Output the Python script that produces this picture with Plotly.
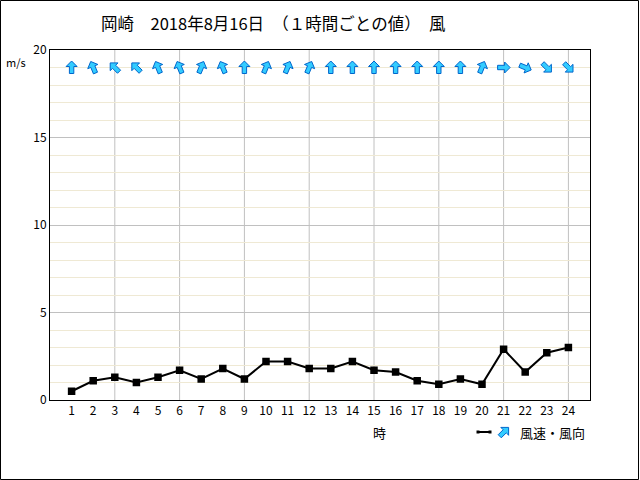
import math
import plotly.graph_objects as go

hours = list(range(1, 25))
speed = [0.5, 1.1, 1.3, 1.0, 1.3, 1.7, 1.2, 1.8, 1.2, 2.2, 2.2, 1.8,
         1.8, 2.2, 1.7, 1.6, 1.1, 0.9, 1.2, 0.9, 2.9, 1.6, 2.7, 3.0]
direction = ["N", "NNW", "NW", "NW", "NNW", "NNW", "NNE", "NNW", "N", "NNE", "NNE", "NNE",
             "N", "N", "N", "N", "N", "N", "N", "NNE", "E", "ESE", "SE", "SE"]
x_tick_labels = [str(h) for h in hours]
y_ticks = [0, 5, 10, 15, 20]
arrow_level = 19.0

compass = ["N", "NNE", "NE", "ENE", "E", "ESE", "SE", "SSE",
           "S", "SSW", "SW", "WSW", "W", "WNW", "NW", "NNW"]

FONT = "Noto Sans CJK JP"
ARROW_FILL = "#33ccff"
ARROW_LINE = "#0066cc"

# block-arrow glyph (pixels, pointing up)
glyph = [(0, 6.5), (5.5, 1), (2.2, 1), (2.2, -6), (-2.2, -6), (-2.2, 1), (-5.5, 1)]


def arrow_path(deg):
    t = math.radians(deg)
    pts = []
    for x, y in glyph:
        xr = x * math.cos(t) + y * math.sin(t)
        yr = -x * math.sin(t) + y * math.cos(t)
        pts.append((xr, yr))
    return "M " + " L ".join(f"{p[0]:.2f},{p[1]:.2f}" for p in pts) + " Z"


fig = go.Figure()
fig.add_trace(go.Scatter(
    x=hours, y=speed, mode="lines+markers",
    line=dict(color="black", width=2),
    marker=dict(symbol="square", size=7.5, color="black"),
    name="風速", showlegend=False,
))

for h, d in zip(hours, direction):
    fig.add_shape(type="path", xref="x", yref="y", xsizemode="pixel", ysizemode="pixel",
                  xanchor=h, yanchor=arrow_level, path=arrow_path(compass.index(d) * 22.5),
                  fillcolor=ARROW_FILL, line=dict(color=ARROW_LINE, width=1), layer="above")

fig.update_layout(
    width=640, height=480,
    margin=dict(l=50, r=50, t=50, b=80),
    paper_bgcolor="white", plot_bgcolor="white",
    font=dict(family=FONT, size=12, color="black"),
    showlegend=False,
    xaxis=dict(range=[0, 25], tickmode="array", tickvals=hours, ticktext=x_tick_labels,
               showgrid=False, zeroline=False, showline=True, linecolor="black",
               linewidth=1, mirror=True, ticks="", tickfont=dict(size=12)),
    yaxis=dict(range=[0, 20], tickmode="array", tickvals=y_ticks,
               showgrid=True, gridcolor="#c0c0c0", gridwidth=1,
               zeroline=False, showline=True, linecolor="black", linewidth=1,
               mirror=True, ticks="", tickfont=dict(size=12),
               minor=dict(dtick=1, showgrid=True, gridcolor="#efe9d4", gridwidth=1)),
)

# vertical grid lines every 3 hours
for h in hours:
    if h % 3 == 0:
        fig.add_shape(type="line", x0=h, x1=h, y0=0, y1=20, xref="x", yref="y",
                      line=dict(color="#c0c0c0", width=1), layer="below")

fig.add_annotation(text="岡崎　2018年8月16日　（１時間ごとの値）　風",
                   xref="paper", yref="paper", x=0.413, y=1.0, yshift=27,
                   showarrow=False, font=dict(size=16.5, family=FONT), xanchor="center",
                   yanchor="middle")
fig.add_annotation(text="m/s", xref="paper", yref="paper", x=0, y=1.0, xshift=-22,
                   yshift=-12, showarrow=False, font=dict(size=11, family=FONT),
                   xanchor="right", yanchor="middle")
fig.add_annotation(text="時", xref="x", yref="paper", x=15.25, y=0, yshift=-32,
                   showarrow=False, font=dict(size=13, family=FONT),
                   xanchor="center", yanchor="middle")

# legend (drawn manually)
ly = -32 / 350
fig.add_shape(type="line", xref="paper", yref="paper",
              x0=(478 - 50) / 540, x1=(490 - 50) / 540, y0=ly, y1=ly,
              line=dict(color="black", width=2))
for px in (478, 490):
    fig.add_shape(type="rect", xref="paper", yref="paper", xsizemode="pixel",
                  ysizemode="pixel", xanchor=(px - 50) / 540, yanchor=ly,
                  x0=-1.5, x1=1.5, y0=-1.5, y1=1.5, fillcolor="black",
                  line=dict(width=0))
fig.add_shape(type="path", xref="paper", yref="paper", xsizemode="pixel",
              ysizemode="pixel", xanchor=(504 - 50) / 540, yanchor=ly,
              path=arrow_path(45), fillcolor=ARROW_FILL,
              line=dict(color=ARROW_LINE, width=1))
fig.add_annotation(text="風速・風向", xref="paper", yref="paper",
                   x=(518 - 50) / 540, y=ly, showarrow=False, xanchor="left",
                   yanchor="middle", font=dict(size=13, family=FONT))

# outer frame
fig.add_shape(type="rect", xref="paper", yref="paper", x0=-49.5 / 540, x1=588.5 / 540,
              y0=-79.5 / 350, y1=1 + 49.5 / 350, line=dict(color="black", width=1))

fig.write_html("out.html", post_script="document.body.style.margin='0';",
               config={"displayModeBar": False})
